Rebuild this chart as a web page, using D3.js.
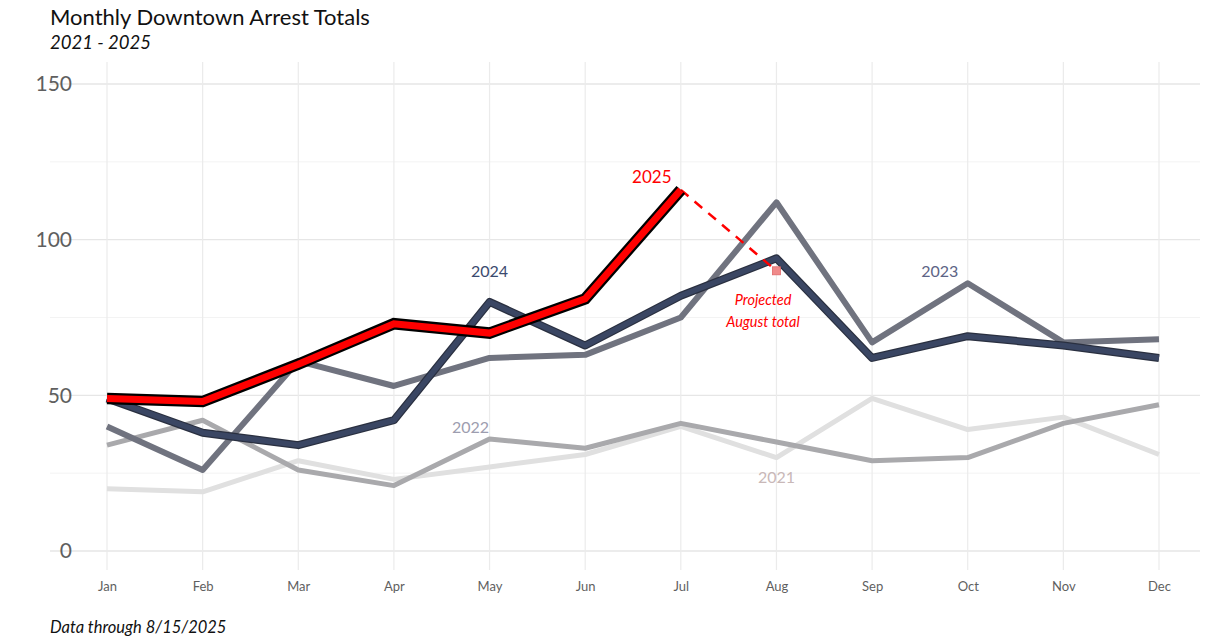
<!DOCTYPE html>
<html>
<head>
<meta charset="utf-8">
<script src="https://cdn.jsdelivr.net/npm/d3@7"></script>
<style>
  body { margin: 0; background: #fff; }
  svg { font-family: "Open Sans", sans-serif; }
</style>
</head>
<body>
<script>
// chart values
var months = ["Jan", "Feb", "Mar", "Apr", "May", "Jun", "Jul", "Aug", "Sep", "Oct", "Nov", "Dec"];
var yTicks = [0, 50, 100, 150];
var minorTicks = [25, 75, 125];

var arrests2021 = [20, 19, 29, 23, 27, 31, 40, 30, 49, 39, 43, 31];
var arrests2022 = [34, 42, 26, 21, 36, 33, 41, 35, 29, 30, 41, 47];
var arrests2023 = [40, 26, 61, 53, 62, 63, 75, 112, 67, 86, 67, 68];
var arrests2024 = [49, 38, 34, 42, 80, 66, 82, 94, 62, 69, 66, 62];
var arrests2025 = [49, 48, 60, 73, 70, 81, 116];
var projectedAug = 90;

var svgWidth = 1207;
var svgHeight = 640;

var svg = d3.select("body")
  .append("svg")
  .attr("width", svgWidth)
  .attr("height", svgHeight);

var x = d3.scalePoint().domain(months).range([107, 1159]);
var y = d3.scaleLinear().domain([0, 150]).range([551, 84]);

// grid
var grid = svg.append("g");
grid.selectAll(".minor")
  .data(minorTicks)
  .enter().append("line")
  .attr("x1", 50).attr("x2", 1200)
  .attr("y1", d => y(d)).attr("y2", d => y(d))
  .attr("stroke", "#f3f3f3").attr("stroke-width", 1);
grid.selectAll(".major")
  .data(yTicks)
  .enter().append("line")
  .attr("x1", 50).attr("x2", 1200)
  .attr("y1", d => y(d)).attr("y2", d => y(d))
  .attr("stroke", "#e6e6e6").attr("stroke-width", 1.3);
grid.selectAll(".vert")
  .data(months)
  .enter().append("line")
  .attr("x1", d => x(d)).attr("x2", d => x(d))
  .attr("y1", 62).attr("y2", 570)
  .attr("stroke", "#ebebeb").attr("stroke-width", 1.2);

// axes
var yAxis = svg.append("g")
  .attr("transform", "translate(72,0)")
  .call(d3.axisLeft(y).tickValues(yTicks).tickSize(0).tickPadding(0));
yAxis.select(".domain").remove();
yAxis.selectAll("text")
  .attr("fill", "#5f5f5f")
  .style("font-size", "21px")
  .style("font-family", "Lato, sans-serif");

var xAxis = svg.append("g")
  .attr("transform", "translate(0,582)")
  .call(d3.axisBottom(x).tickSize(0).tickPadding(0));
xAxis.select(".domain").remove();
xAxis.selectAll("text")
  .attr("fill", "#5f5f5f")
  .style("font-size", "13px")
  .style("font-family", "Lato, sans-serif");

var line = d3.line()
  .x((d, i) => x(months[i]))
  .y(d => y(d));

// older years first, 2025 on top
svg.append("path").datum(arrests2021)
  .attr("d", line).attr("fill", "none")
  .attr("stroke", "#e0e0e0").attr("stroke-width", 5).attr("stroke-linejoin", "round");
svg.append("path").datum(arrests2022)
  .attr("d", line).attr("fill", "none")
  .attr("stroke", "#a9a9ac").attr("stroke-width", 5).attr("stroke-linejoin", "round");
svg.append("path").datum(arrests2023)
  .attr("d", line).attr("fill", "none")
  .attr("stroke", "#70737f").attr("stroke-width", 6).attr("stroke-linejoin", "round");
svg.append("path").datum(arrests2024)
  .attr("d", line).attr("fill", "none")
  .attr("stroke", "#2a3040").attr("stroke-width", 8).attr("stroke-linejoin", "round");
svg.append("path").datum(arrests2024)
  .attr("d", line).attr("fill", "none")
  .attr("stroke", "#3a4663").attr("stroke-width", 5.5).attr("stroke-linejoin", "round");

// projected dashed segment
svg.append("line")
  .attr("x1", x("Jul")).attr("y1", y(arrests2025[6]))
  .attr("x2", x("Aug")).attr("y2", y(projectedAug))
  .attr("stroke", "#ff0000").attr("stroke-width", 2.5)
  .attr("stroke-dasharray", "10,8");
svg.append("rect")
  .attr("x", x("Aug") - 4).attr("y", y(projectedAug) - 4)
  .attr("width", 8).attr("height", 8)
  .attr("fill", "#f08a8a").attr("stroke", "#e06a6a").attr("stroke-width", 0.8);

svg.append("path").datum(arrests2025)
  .attr("d", line).attr("fill", "none")
  .attr("stroke", "#000").attr("stroke-width", 11.5).attr("stroke-linejoin", "miter");
svg.append("path").datum(arrests2025)
  .attr("d", line).attr("fill", "none")
  .attr("stroke", "#ff0000").attr("stroke-width", 7).attr("stroke-linejoin", "miter");

// year labels
var labels = [
  { text: "2025", month: "Jul", dx: -29, yy: 177, color: "#ff0000", size: 17 },
  { text: "2024", month: "May", dx: 0, yy: 271, color: "#3a4a6e", size: 16 },
  { text: "2023", month: "Oct", dx: -28, yy: 271, color: "#5d6486", size: 16 },
  { text: "2022", month: "May", dx: -19, yy: 427, color: "#9d9daf", size: 16 },
  { text: "2021", month: "Aug", dx: 0, yy: 477, color: "#c9b8b8", size: 16 }
];
svg.selectAll(".yearLabel")
  .data(labels)
  .enter().append("text")
  .attr("x", d => x(d.month) + d.dx)
  .attr("y", d => d.yy)
  .attr("dy", "0.35em")
  .attr("text-anchor", "middle")
  .attr("fill", d => d.color)
  .style("font-size", d => d.size + "px")
  .style("font-family", "Lato, sans-serif")
  .text(d => d.text);

// projection note
var note = svg.append("text")
  .attr("text-anchor", "middle")
  .attr("fill", "#ff0000")
  .style("font-size", "14.5px")
  .style("font-style", "italic")
  .style("font-family", "Lato, sans-serif");
note.append("tspan").attr("x", 763).attr("y", 305).text("Projected");
note.append("tspan").attr("x", 763).attr("y", 327).text("August total");

// titles
svg.append("text")
  .attr("x", 50).attr("y", 25)
  .attr("fill", "#111")
  .style("font-size", "22px")
  .style("font-family", "Lato, sans-serif")
  .text("Monthly Downtown Arrest Totals");
svg.append("text")
  .attr("x", 50).attr("y", 49)
  .attr("fill", "#111")
  .style("font-size", "18.5px")
  .style("font-style", "italic")
  .style("font-family", "Lato, sans-serif")
  .text("2021 - 2025");
svg.append("text")
  .attr("x", 50).attr("y", 633)
  .attr("fill", "#111")
  .style("font-size", "16.5px")
  .style("font-style", "italic")
  .style("font-family", "Lato, sans-serif")
  .text("Data through 8/15/2025");
</script>
</body>
</html>
